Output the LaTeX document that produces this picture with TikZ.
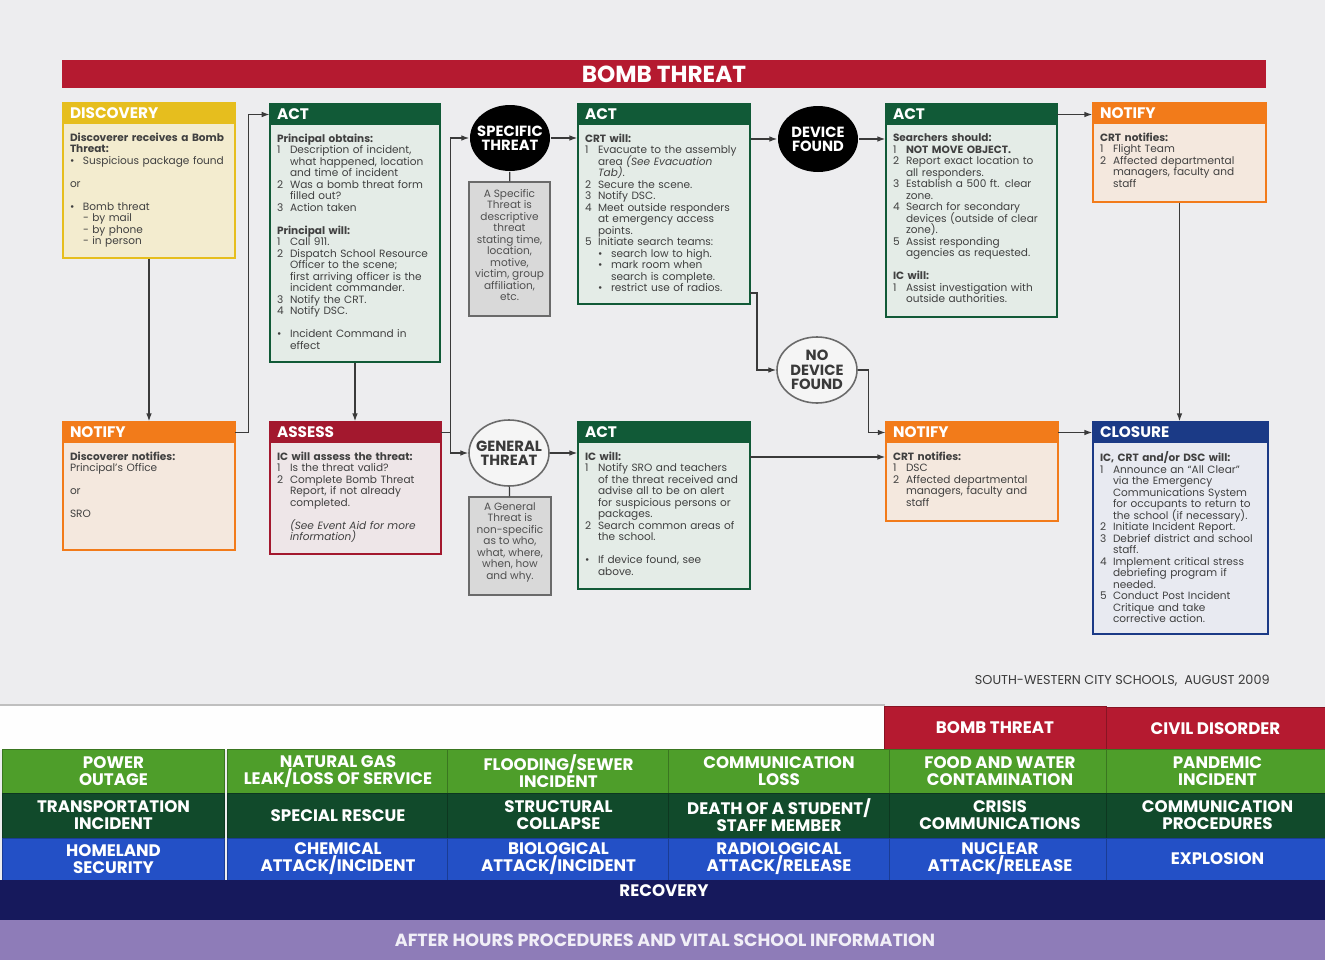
\documentclass[tikz,border=0pt]{standalone}
\usepackage{fontspec}
\setmainfont{Poppins}
\usetikzlibrary{fit,arrows.meta,shapes.geometric}

\definecolor{pagegrey}{HTML}{EDEDEF}
\definecolor{bombred}{HTML}{B51A30}
\definecolor{discyel}{HTML}{E6BE1E}
\definecolor{discfill}{HTML}{F3ECCF}
\definecolor{actgreen}{HTML}{115A37}
\definecolor{actfill}{HTML}{E4ECE7}
\definecolor{notorange}{HTML}{F27B1A}
\definecolor{notfill}{HTML}{F4E8DE}
\definecolor{assred}{HTML}{A3182E}
\definecolor{assfill}{HTML}{EEE6E8}
\definecolor{closnavy}{HTML}{1B3A86}
\definecolor{closfill}{HTML}{E8EAF1}
\definecolor{inkgrey}{HTML}{3A3A3A}
\definecolor{bodyink}{HTML}{404040}
\definecolor{notegrey}{HTML}{6A6A6A}
\definecolor{notefill}{HTML}{D9D9D9}
\definecolor{noteink}{HTML}{505050}
\definecolor{tabgreen}{HTML}{4E9E2A}
\definecolor{tabdark}{HTML}{114A2B}
\definecolor{tabblue}{HTML}{2350C6}
\definecolor{recnavy}{HTML}{16195C}
\definecolor{ahpurple}{HTML}{8E7CB8}

\newdimen\pxu \pxu=0.02cm
\newdimen\hangw \hangw=13\pxu

% list lines with a hanging indent
\newcommand\nl{\hfil\break}
\newcommand\itm[2]{\par\hangindent=\hangw\hangafter=1\noindent\hbox to\hangw{#1\hfil}{\let\\\nl #2}}
\newcommand\subitm[1]{\par\hangindent=2\hangw\hangafter=1\noindent\hbox to 2\hangw{\hskip\hangw\textbullet\hfil}{\let\\\nl #1}}
\newcommand\gap{\par\vspace{6.5pt}}
\newcommand\smalltext{\fontsize{6}{6.55}\selectfont\lineskiplimit-10pt\relax}

% box with coloured title strip: name, x1, y1, x2, y2, colour, fill, title, text
\newcommand\card[9]{%
  \node[cardbox, draw=#6, fill=#7, fit={(#2,#3) (#4,#5)}] (#1) {};
  \node[cardhead, fill=#6, fit={(#2,#3) (#4,#3+21)}] (#1h) {};
  \node[cardtitle] (#1ttl) at ([xshift=7\pxu]#1h.west) {#8};
  \pgfmathsetlengthmacro\cardw{(#4-#2-8)*\pxu}
  \node[cardtext, text width=\cardw] (#1t) at ([xshift=7\pxu,yshift=-8\pxu]#1h.south west) {#9\par};}

\begin{document}
\begin{tikzpicture}[
    x=0.02cm, y=-0.02cm,
    flow/.style={draw=inkgrey, line width=0.7pt, -{Latex[length=4.5pt,width=3.2pt]}},
    link/.style={draw=inkgrey, line width=0.7pt},
    cardbox/.style={inner sep=0pt, line width=0.8pt},
    cardhead/.style={inner sep=0pt},
    cardtitle/.style={anchor=west, inner sep=0pt, text=white, font=\bfseries\fontsize{8.7}{9}\selectfont},
    cardtext/.style={anchor=north west, inner sep=0pt, align=left, text=bodyink, font=\smalltext},
    spot/.style={ellipse, inner sep=0pt, minimum width=80\pxu, minimum height=66\pxu, line width=0.9pt},
    spotlbl/.style={align=center, inner sep=0pt, font=\bfseries\fontsize{8.4}{8.1}\selectfont},
    note/.style={draw=notegrey, fill=notefill, line width=0.7pt, inner sep=0pt, align=center, text=noteink, font=\smalltext},
    tab/.style={minimum width=222\pxu, minimum height=44\pxu, inner sep=0pt, align=center, text=white,
        font=\bfseries\fontsize{9.5}{9.6}\selectfont, fill=#1, draw=#1!75!black, line width=0.4pt},
    bandtxt/.style={text=white, inner sep=0pt, font=\bfseries\fontsize{9.5}{10}\selectfont}
]
    \fill[pagegrey] (0,0) rectangle (1325,960);
    \useasboundingbox (0,0) rectangle (1325,960);

    \node[fit={(62,60) (1266,88)}, fill=bombred, inner sep=0pt] (banner) {};
    \node[text=white, inner sep=0pt, font=\bfseries\fontsize{13.2}{13.2}\selectfont] (bannertxt) at (banner) {BOMB THREAT};

    % upper row
    \card{disc}{63}{103}{235}{258}{discyel}{discfill}{DISCOVERY}{%
        \textbf{Discoverer receives a Bomb\\Threat:}
        \itm{\textbullet}{Suspicious package found}
        \gap or
        \gap\itm{\textbullet}{Bomb threat\\- by mail\\- by phone\\- in person}}

    \card{act1}{270}{104}{440}{362}{actgreen}{actfill}{ACT}{%
        \textbf{Principal obtains:}
        \itm{1}{Description of incident,\\what happened, location\\and time of incident}
        \itm{2}{Was a bomb threat form\\filled out?}
        \itm{3}{Action taken}
        \gap\textbf{Principal will:}
        \itm{1}{Call 911.}
        \itm{2}{Dispatch School Resource\\Officer to the scene;\\first arriving officer is the\\incident commander.}
        \itm{3}{Notify the CRT.}
        \itm{4}{Notify DSC.}
        \gap\itm{\textbullet}{Incident Command in\\effect}}

    \node[spot, fill=black] (spec) at (510,138) {};
    \node[spotlbl, text=white] (spectxt) at (spec) {SPECIFIC\\THREAT};
    \node[note, fit={(469,182) (550,316)}] (specbox) {A Specific\\Threat is\\descriptive\\threat\\stating time,\\location,\\motive,\\victim, group\\affiliation,\\etc.};

    \card{act2}{578}{104}{750}{304}{actgreen}{actfill}{ACT}{%
        \textbf{CRT will:}
        \itm{1}{Evacuate to the assembly\\area \textit{(See Evacuation\\Tab)}.}
        \itm{2}{Secure the scene.}
        \itm{3}{Notify DSC.}
        \itm{4}{Meet outside responders\\at emergency access\\points.}
        \itm{5}{Initiate search teams:}
        \subitm{search low  to high.}
        \subitm{mark room when\\search is complete.}
        \subitm{restrict use of radios.}}

    \node[spot, fill=black] (dev) at (818,139) {};
    \node[spotlbl, text=white] (devtxt) at (dev) {DEVICE\\FOUND};

    \card{act3}{886}{104}{1057}{317}{actgreen}{actfill}{ACT}{%
        \textbf{Searchers should:}
        \itm{1}{\textbf{NOT MOVE OBJECT.}}
        \itm{2}{Report exact location to\\all responders.}
        \itm{3}{Establish a 500 ft. clear\\zone.}
        \itm{4}{Search for secondary\\devices (outside of clear\\zone).}
        \itm{5}{Assist responding\\agencies as requested.}
        \gap\textbf{IC will:}
        \itm{1}{Assist investigation with\\outside authorities.}}

    \card{notr}{1093}{103}{1266}{202}{notorange}{notfill}{NOTIFY}{%
        \textbf{CRT notifies:}
        \itm{1}{Flight Team}
        \itm{2}{Affected departmental\\managers, faculty and\\staff}}

    % lower row
    \card{notl}{63}{422}{235}{550}{notorange}{notfill}{NOTIFY}{%
        \textbf{Discoverer notifies:}\\Principal's Office
        \gap or
        \gap SRO}

    \card{ass}{270}{422}{441}{554}{assred}{assfill}{ASSESS}{%
        \textbf{IC will assess the threat:}
        \itm{1}{Is the threat valid?}
        \itm{2}{Complete Bomb Threat\\Report, if not already\\completed.}
        \gap\itm{}{\textit{(See Event Aid for more\\information)}}}

    \node[spot, fill=white!96!black, draw=notegrey] (gen) at (509,453) {};
    \node[spotlbl, text=inkgrey] (gentxt) at (gen) {GENERAL\\THREAT};
    \node[note, fit={(469,497) (551,595)}] (genbox) {A General\\Threat is\\non-specific\\as to who,\\what, where,\\when, how\\and why.};

    \card{act4}{578}{422}{750}{589}{actgreen}{actfill}{ACT}{%
        \textbf{IC will:}
        \itm{1}{Notify SRO and teachers\\of the threat received and\\advise all to be on alert\\for suspicious persons or\\packages.}
        \itm{2}{Search common areas of\\the school.}
        \gap\itm{\textbullet}{If device found, see\\above.}}

    \node[spot, fill=white!96!black, draw=notegrey] (nodev) at (817,370) {};
    \node[spotlbl, text=inkgrey] (nodevtxt) at (nodev) {NO\\DEVICE\\FOUND};

    \card{notm}{886}{422}{1058}{521}{notorange}{notfill}{NOTIFY}{%
        \textbf{CRT notifies:}
        \itm{1}{DSC}
        \itm{2}{Affected departmental\\managers, faculty and\\staff}}

    \card{clos}{1093}{422}{1268}{634}{closnavy}{closfill}{CLOSURE}{%
        \textbf{IC, CRT and/or DSC will:}
        \itm{1}{Announce an “All Clear”\\via the Emergency\\Communications System\\for occupants  to return to\\the school (if necessary).}
        \itm{2}{Initiate Incident Report.}
        \itm{3}{Debrief district and school\\staff.}
        \itm{4}{Implement critical stress\\debriefing program if\\needed.}
        \itm{5}{Conduct Post Incident\\Critique and take\\corrective action.}}

    % connectors
    \draw[flow] (disc) -- (notl);
    \draw[flow] (notlh.east) -- ++(13,0) |- (act1h.west);
    \draw[flow] (act1) -- (act1.south |- ass.north);
    \draw[flow] (assh.east) -- ++(9,0) coordinate (split) |- (spec);
    \draw[flow] (split) |- (gen);
    \draw[link] (spec) -- (specbox);
    \draw[link] (gen) -- (genbox);
    \draw[flow] (spec) -- (spec -| act2.west);
    \draw[flow] (dev -| act2.east) -- (dev);
    \draw[flow] (dev) -- (dev -| act3.west);
    \draw[flow] (act3h.east) -- (act3h.east -| notr.west);
    \draw[flow] (notr.south) -- (notr.south |- clos.north);
    \coordinate (act2out) at (750,293);
    \draw[flow] (act2out) -- ++(7,0) |- (nodev);
    \draw[flow] (nodev.east) -- ++(11,0) |- (notmh.west);
    \draw[flow] (gen) -- (gen -| act4.west);
    \coordinate (act4out) at (750,457);
    \draw[flow] (act4out) -- (act4out -| notm.west);
    \draw[flow] (notmh.east) -- (notmh.east -| clos.west);

    \node[anchor=east, inner sep=0pt, text=inkgrey, font=\fontsize{7.3}{8}\selectfont] (credit) at (1270,681) {SOUTH-WESTERN CITY SCHOOLS,\ \ AUGUST 2009};

    % tabs along the bottom
    \fill[white!96!pagegrey] (0,706) rectangle (884,750);
    \draw[black!25, line width=0.6pt] (0,705) -- (885,705);
    \node[tab=bombred] (tabbomb) at (995,728) {BOMB THREAT};
    \node[tab=bombred, minimum width=219\pxu] (tabcivil) at (1215.5,729) {CIVIL DISORDER};
    \foreach \x/\t [count=\i] in {113.5/{POWER\\OUTAGE}, 338/{NATURAL GAS\\LEAK/LOSS OF SERVICE}, 558.5/{FLOODING/SEWER\\INCIDENT},
        779/{COMMUNICATION\\LOSS}, 1000/{FOOD AND WATER\\CONTAMINATION}, 1217.5/{PANDEMIC\\INCIDENT}}
        \node[tab=tabgreen] (rowa\i) at (\x,771.5) {\t};
    \foreach \x/\t [count=\i] in {113.5/{TRANSPORTATION\\INCIDENT}, 338/{SPECIAL RESCUE}, 558.5/{STRUCTURAL\\COLLAPSE},
        779/{DEATH OF A STUDENT/\\STAFF MEMBER}, 1000/{CRISIS\\COMMUNICATIONS}, 1217.5/{COMMUNICATION\\PROCEDURES}}
        \node[tab=tabdark, minimum height=45\pxu] (rowb\i) at (\x,815.5) {\t};
    \foreach \x/\t [count=\i] in {113.5/{HOMELAND\\SECURITY}, 338/{CHEMICAL\\ATTACK/INCIDENT}, 558.5/{BIOLOGICAL\\ATTACK/INCIDENT},
        779/{RADIOLOGICAL\\ATTACK/RELEASE}, 1000/{NUCLEAR\\ATTACK/RELEASE}, 1217.5/{EXPLOSION}}
        \node[tab=tabblue, minimum height=42\pxu] (rowc\i) at (\x,859) {\t};
    \fill[recnavy] (0,880) rectangle (1325,920);
    \node[bandtxt] (recovery) at (664,891) {RECOVERY};
    \fill[ahpurple] (0,920) rectangle (1325,960);
    \node[bandtxt, text=white!88!ahpurple, font=\bfseries\fontsize{10}{10}\selectfont] (afterhours) at (665,940) {AFTER HOURS PROCEDURES AND VITAL SCHOOL INFORMATION};
\end{tikzpicture}
\end{document}
